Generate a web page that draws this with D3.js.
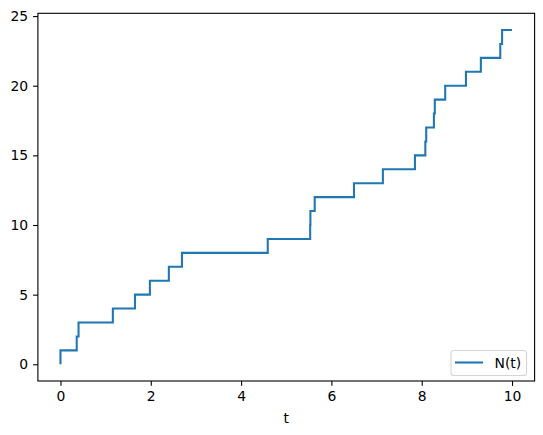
<!DOCTYPE html>
<html>
<head>
<meta charset="utf-8">
<script src="https://cdn.jsdelivr.net/npm/d3@7"></script>
<style>
  html, body { margin: 0; padding: 0; background: #fff; }
  svg { display: block; }
  text { font-family: "DejaVu Sans", sans-serif; }
</style>
</head>
<body>
<svg id="chart" width="543" height="435"></svg>
<script>
// Jump times of the counting process N(t)
const eventTimes = [0.0, 0.36, 0.40, 1.16, 1.65, 1.98, 2.40, 2.69, 4.59, 5.53, 5.535, 5.63,
                    6.50, 7.14, 7.85, 8.08, 8.10, 8.27, 8.29, 8.52, 8.98, 9.31, 9.74, 9.78];
const tStart = 0;
const tEnd = 10;
const xTicks = [0, 2, 4, 6, 8, 10];
const yTicks = [0, 5, 10, 15, 20, 25];
const seriesLabel = "N(t)";
const xLabel = "t";

const svg = d3.select("#chart");
const mLeft = 37.9, mRight = 534.6, mTop = 13.3, mBottom = 381;

const x = d3.scaleLinear().domain([-0.5, 10.5]).range([mLeft, mRight]);
const y = d3.scaleLinear().domain([-1.2, 25.2]).range([mBottom, mTop]);

// Build step points
const pts = [[tStart, 0]];
eventTimes.forEach((t, i) => pts.push([t, i + 1]));
pts.push([tEnd, eventTimes.length]);

const line = d3.line().x(d => x(d[0])).y(d => y(d[1])).curve(d3.curveStepAfter);

svg.append("path")
  .datum(pts)
  .attr("fill", "none")
  .attr("stroke", "#1f77b4")
  .attr("stroke-width", 2.08)
  .attr("stroke-linejoin", "miter")
  .attr("d", line);

// Axes
const xAxis = d3.axisBottom(x).tickValues(xTicks).tickSize(4.86).tickPadding(4.86).tickFormat(d3.format("d"));
const yAxis = d3.axisLeft(y).tickValues(yTicks).tickSize(4.86).tickPadding(4.86).tickFormat(d3.format("d"));

const gx = svg.append("g").attr("transform", `translate(0,${mBottom})`).call(xAxis);
const gy = svg.append("g").attr("transform", `translate(${mLeft},0)`).call(yAxis);
[gx, gy].forEach(g => {
  g.select(".domain").remove();
  g.selectAll(".tick line").attr("stroke", "#000").attr("stroke-width", 1.1);
  g.selectAll(".tick text").attr("fill", "#000").style("font-size", "13.9px").style("font-family", "DejaVu Sans, sans-serif");
});

// Frame (spines)
svg.append("rect")
  .attr("x", mLeft).attr("y", mTop)
  .attr("width", mRight - mLeft).attr("height", mBottom - mTop)
  .attr("fill", "none").attr("stroke", "#000").attr("stroke-width", 1.1);

// X label
svg.append("text")
  .attr("x", (mLeft + mRight) / 2).attr("y", 423)
  .attr("text-anchor", "middle")
  .style("font-size", "13.9px")
  .text(xLabel);

// Legend
const lg = svg.append("g");
lg.append("rect")
  .attr("x", 451).attr("y", 350.5).attr("width", 75.5).attr("height", 25)
  .attr("rx", 2.8).attr("fill", "#fff").attr("fill-opacity", 0.8)
  .attr("stroke", "#d5d5d5").attr("stroke-width", 1.1);
lg.append("line")
  .attr("x1", 455).attr("x2", 483).attr("y1", 362.5).attr("y2", 362.5)
  .attr("stroke", "#1f77b4").attr("stroke-width", 2.08);
lg.append("text")
  .attr("x", 494.5).attr("y", 367.5)
  .style("font-size", "13.9px")
  .text(seriesLabel);
</script>
</body>
</html>
